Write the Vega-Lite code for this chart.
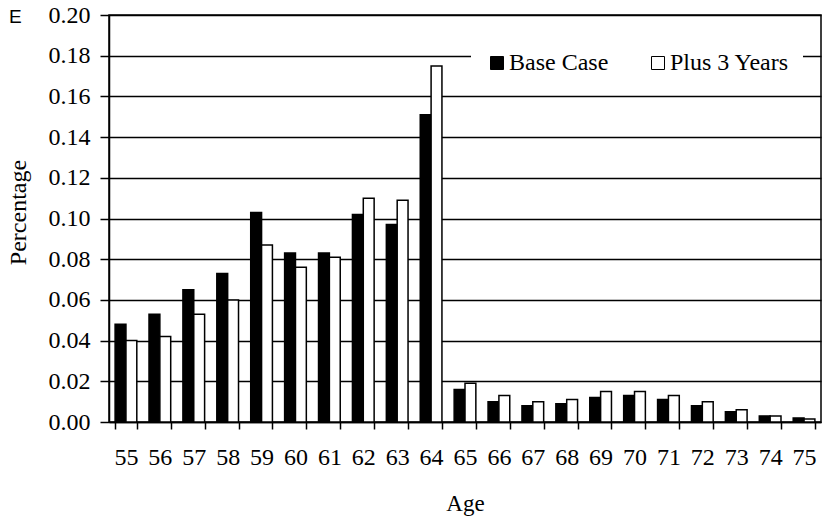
{
  "$schema": "https://vega.github.io/schema/vega-lite/v6.json",
  "width": 712,
  "height": 407,
  "autosize": {"type": "none"},
  "padding": {"left": 109, "top": 15, "right": 4, "bottom": 99},
  "background": "white",
  "title": {
    "text": "E",
    "anchor": "start",
    "frame": "group",
    "orient": "top",
    "offset": 0,
    "dx": -100,
    "dy": 39,
    "baseline": "alphabetic",
    "font": "Liberation Sans",
    "fontSize": 19,
    "fontWeight": "normal",
    "color": "black"
  },
  "config": {
    "font": "Liberation Serif",
    "view": {"stroke": "black", "strokeWidth": 1.5}
  },
  "data": {
    "values": [
      {"age": 55, "series": "Base Case", "value": 0.048},
      {"age": 55, "series": "Plus 3 Years", "value": 0.040},
      {"age": 56, "series": "Base Case", "value": 0.053},
      {"age": 56, "series": "Plus 3 Years", "value": 0.042},
      {"age": 57, "series": "Base Case", "value": 0.065},
      {"age": 57, "series": "Plus 3 Years", "value": 0.053},
      {"age": 58, "series": "Base Case", "value": 0.073},
      {"age": 58, "series": "Plus 3 Years", "value": 0.060},
      {"age": 59, "series": "Base Case", "value": 0.103},
      {"age": 59, "series": "Plus 3 Years", "value": 0.087},
      {"age": 60, "series": "Base Case", "value": 0.083},
      {"age": 60, "series": "Plus 3 Years", "value": 0.076},
      {"age": 61, "series": "Base Case", "value": 0.083},
      {"age": 61, "series": "Plus 3 Years", "value": 0.081},
      {"age": 62, "series": "Base Case", "value": 0.102},
      {"age": 62, "series": "Plus 3 Years", "value": 0.110},
      {"age": 63, "series": "Base Case", "value": 0.097},
      {"age": 63, "series": "Plus 3 Years", "value": 0.109},
      {"age": 64, "series": "Base Case", "value": 0.151},
      {"age": 64, "series": "Plus 3 Years", "value": 0.175},
      {"age": 65, "series": "Base Case", "value": 0.016},
      {"age": 65, "series": "Plus 3 Years", "value": 0.019},
      {"age": 66, "series": "Base Case", "value": 0.010},
      {"age": 66, "series": "Plus 3 Years", "value": 0.013},
      {"age": 67, "series": "Base Case", "value": 0.008},
      {"age": 67, "series": "Plus 3 Years", "value": 0.010},
      {"age": 68, "series": "Base Case", "value": 0.009},
      {"age": 68, "series": "Plus 3 Years", "value": 0.011},
      {"age": 69, "series": "Base Case", "value": 0.012},
      {"age": 69, "series": "Plus 3 Years", "value": 0.015},
      {"age": 70, "series": "Base Case", "value": 0.013},
      {"age": 70, "series": "Plus 3 Years", "value": 0.015},
      {"age": 71, "series": "Base Case", "value": 0.011},
      {"age": 71, "series": "Plus 3 Years", "value": 0.013},
      {"age": 72, "series": "Base Case", "value": 0.008},
      {"age": 72, "series": "Plus 3 Years", "value": 0.010},
      {"age": 73, "series": "Base Case", "value": 0.005},
      {"age": 73, "series": "Plus 3 Years", "value": 0.006},
      {"age": 74, "series": "Base Case", "value": 0.003},
      {"age": 74, "series": "Plus 3 Years", "value": 0.003},
      {"age": 75, "series": "Base Case", "value": 0.002},
      {"age": 75, "series": "Plus 3 Years", "value": 0.0015}
    ]
  },
  "mark": {"type": "bar", "stroke": "black", "strokeWidth": 1.5},
  "encoding": {
    "x": {
      "field": "age",
      "type": "ordinal",
      "scale": {"paddingInner": 0.36, "paddingOuter": 0.18},
      "axis": {
        "title": "Age",
        "labelAngle": 0,
        "tickBand": "extent",
        "grid": false,
        "domainColor": "black",
        "domainWidth": 1.5,
        "tickColor": "black",
        "tickWidth": 1.5,
        "tickSize": 7,
        "labelFont": "Liberation Serif",
        "labelFontSize": 24,
        "labelColor": "black",
        "labelPadding": 16,
        "titleFont": "Liberation Serif",
        "titleFontSize": 23,
        "titleFontWeight": "normal",
        "titleColor": "black",
        "titlePadding": 23
      }
    },
    "xOffset": {
      "field": "series",
      "type": "nominal",
      "sort": ["Base Case", "Plus 3 Years"],
      "scale": {"paddingInner": 0, "paddingOuter": 0}
    },
    "y": {
      "field": "value",
      "type": "quantitative",
      "scale": {"domain": [0, 0.2], "nice": false},
      "axis": {
        "title": "Percentage",
        "values": [0, 0.02, 0.04, 0.06, 0.08, 0.1, 0.12, 0.14, 0.16, 0.18, 0.2],
        "format": ".2f",
        "grid": true,
        "gridColor": "black",
        "gridWidth": 1.5,
        "gridOpacity": 1,
        "domainColor": "black",
        "domainWidth": 1.5,
        "tickColor": "black",
        "tickWidth": 1.5,
        "tickSize": 9,
        "labelFont": "Liberation Serif",
        "labelFontSize": 24,
        "labelColor": "black",
        "labelPadding": 10,
        "titleFont": "Liberation Serif",
        "titleFontSize": 24,
        "titleFontWeight": "normal",
        "titleColor": "black",
        "titlePadding": 18,
        "titleY": 197
      }
    },
    "color": {
      "field": "series",
      "type": "nominal",
      "scale": {"domain": ["Base Case", "Plus 3 Years"], "range": ["black", "white"]},
      "legend": {
        "orient": "none",
        "legendX": 362,
        "legendY": 22,
        "direction": "horizontal",
        "title": null,
        "fillColor": "white",
        "padding": 14,
        "symbolType": "square",
        "symbolSize": 169,
        "symbolStrokeColor": "black",
        "symbolStrokeWidth": 1,
        "labelFont": "Liberation Serif",
        "labelFontSize": 24,
        "labelColor": "black",
        "labelOffset": 0,
        "columnPadding": 37
      }
    }
  }
}
